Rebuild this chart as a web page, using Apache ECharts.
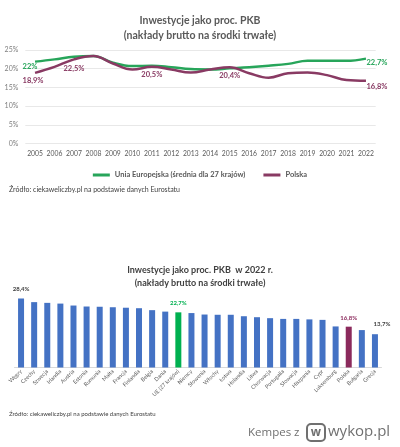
<!DOCTYPE html>
<html><head><meta charset="utf-8">
<script src="https://cdn.jsdelivr.net/npm/echarts@6/dist/echarts.min.js"></script>
<style>html,body{margin:0;padding:0;background:#fff}#c{width:400px;height:447px}</style>
</head><body><div id="c"></div>
<script>
const years = ['2005','2006','2007','2008','2009','2010','2011','2012','2013','2014','2015','2016','2017','2018','2019','2020','2021','2022'];
const euValues = [21.9,22.5,23.2,23.4,21.6,20.7,20.8,20.4,19.9,19.8,20.1,20.4,20.8,21.3,22.1,22.1,22.1,22.7];
const plValues = [18.9,20.5,22.5,23.4,21.4,19.8,20.5,19.8,19.0,19.8,20.4,18.8,17.6,18.8,19.0,18.3,17.0,16.8];
const yTicks = [0,5,10,15,20,25];

const countries = ['Węgry','Czechy','Szwecja','Irlandia','Austria','Estonia','Rumunia','Malta','Francja','Finlandia','Belgia','Dania','UE (27 krajów)','Niemcy','Słowenia','Włochy','Łotwa','Holandia','Litwa','Chorwacja','Portugalia','Słowacja','Hiszpania','Cypr','Luksemburg','Polska','Bułgaria','Grecja'];
const values2022 = [28.4,26.9,26.6,26.3,25.5,25.1,25.0,24.8,24.6,24.4,23.6,23.0,22.7,22.4,21.8,21.7,21.7,21.1,20.7,20.3,20.0,20.0,19.8,19.6,16.9,16.8,15.4,13.7];
const labelledBars = {'Węgry':'#404040','UE (27 krajów)':'#00b050','Polska':'#8b2a5c','Grecja':'#404040'};

const FONT = 'Lato';
const GREEN = '#27a55a', PURPLE = '#893a63';
const fmt = v => String(v).replace('.', ',') + '%';

const euLabelIdx = {0:{txt:'22%',off:[-5,-2]},17:{txt:'22,7%',off:[11,-3]}};
const plLabelIdx = {0:{off:[-2,1]},2:{off:[0,2]},6:{off:[0,1]},10:{off:[0,1]},17:{off:[11,-1]}};

const euData = euValues.map((v,i)=>{
  const l = euLabelIdx[i];
  return l ? {value:v,label:{show:true,position:'bottom',distance:3,formatter:l.txt,offset:l.off,color:GREEN,fontWeight:'bold',fontSize:7.5,fontFamily:FONT}} : v;
});
const plData = plValues.map((v,i)=>{
  const l = plLabelIdx[i];
  return l ? {value:v,label:{show:true,position:'bottom',distance:3,formatter:fmt(v),offset:l.off,color:PURPLE,fontWeight:'bold',fontSize:7.5,fontFamily:FONT}} : v;
});
const barData = values2022.map((v,i)=>{
  const c = countries[i];
  const item = {value:v,itemStyle:{color: c==='UE (27 krajów)'?'#00b050':(c==='Polska'?'#8b2a5c':'#4472c4')}};
  if (labelledBars[c]) item.label = {show:true,position:'top',distance:c==='Grecja'?4:6,offset:c==='Grecja'?[7,-3]:[0,0],formatter:fmt(v),color:labelledBars[c],fontSize:6,fontWeight:'bold',fontFamily:FONT};
  return item;
});

const chart = echarts.init(document.getElementById('c'), null, {renderer:'canvas'});
chart.setOption({
  animation:false,
  backgroundColor:'#fff',
  textStyle:{fontFamily:FONT},
  title:[
    {text:'Inwestycje jako proc. PKB\n(nakłady brutto na środki trwałe)',left:'center',top:8,
     textStyle:{fontFamily:FONT,fontSize:10.5,fontWeight:'bold',color:'#595959',lineHeight:15}},
    {text:'Inwestycje jako proc. PKB  w 2022 r.\n(nakłady brutto na środki trwałe)',left:'center',top:259,
     textStyle:{fontFamily:FONT,fontSize:9,fontWeight:'bold',color:'#404040',lineHeight:13}}
  ],
  legend:{
    top:166,left:'center',itemWidth:17,itemHeight:3,itemGap:18,icon:'rect',
    textStyle:{fontFamily:FONT,fontSize:7.5,color:'#595959',fontWeight:'bold'},
    data:['Unia Europejska (średnia dla 27 krajów)','Polska']
  },
  grid:[
    {left:25.3,right:24.3,top:50,height:93.7,containLabel:false},
    {left:14.5,right:18.5,top:294.6,height:72.9,containLabel:false}
  ],
  xAxis:[
    {type:'category',gridIndex:0,data:years,boundaryGap:true,
     axisLine:{show:false},axisTick:{show:false},
     axisLabel:{fontSize:6.8,color:'#595959',margin:7,interval:0,fontFamily:FONT}},
    {type:'category',gridIndex:1,data:countries,boundaryGap:true,
     axisLine:{show:true,lineStyle:{color:'#d9d9d9',width:1}},axisTick:{show:false},
     axisLabel:{fontSize:5.5,color:'#595959',rotate:45,margin:3,interval:0,fontFamily:FONT}}
  ],
  yAxis:[
    {type:'value',gridIndex:0,min:yTicks[0],max:yTicks[yTicks.length-1],interval:5,
     axisLine:{show:false},axisTick:{show:false},
     splitLine:{lineStyle:{color:'#e8e8e8',width:1}},
     axisLabel:{formatter:'{value}%',fontSize:7,color:'#7f7f7f',margin:7,fontFamily:FONT}},
    {type:'value',gridIndex:1,min:0,max:30,show:false,splitLine:{show:false}}
  ],
  series:[
    {name:'Unia Europejska (średnia dla 27 krajów)',type:'line',xAxisIndex:0,yAxisIndex:0,data:euData,
     smooth:0.4,symbol:'circle',symbolSize:0.01,showSymbol:true,lineStyle:{color:GREEN,width:2.5},itemStyle:{color:GREEN},z:3},
    {name:'Polska',type:'line',xAxisIndex:0,yAxisIndex:0,data:plData,
     smooth:0.4,symbol:'circle',symbolSize:0.01,showSymbol:true,lineStyle:{color:PURPLE,width:2.5},itemStyle:{color:PURPLE},z:4},
    {name:'2022',type:'bar',xAxisIndex:1,yAxisIndex:1,data:barData,barWidth:6}
  ],
  graphic:[
    {type:'text',left:9,top:186,style:{text:'Źródło: ciekaweliczby.pl na podstawie danych Eurostatu',fontSize:7,fill:'#404040',fontFamily:FONT}},
    {type:'text',left:9,top:411,style:{text:'Źródło: ciekaweliczby.pl na podstawie danych Eurostatu',fontSize:6,fill:'#404040',fontFamily:FONT}},
    {type:'text',x:248,y:433,style:{text:'Kempes z',fontSize:11.5,fill:'#707070',fontFamily:'Open Sans',textVerticalAlign:'middle',textAlign:'left'}},
    {type:'rect',x:307,y:424,shape:{width:18,height:17,r:4},style:{fill:'none',stroke:'#707070',lineWidth:2}},
    {type:'text',x:316,y:433,style:{text:'w',fontSize:12,fontWeight:'bold',fill:'#707070',fontFamily:'Open Sans',textVerticalAlign:'middle',textAlign:'center'}},
    {type:'text',x:328,y:432,style:{text:'wykop.pl',fontSize:15,fill:'#707070',fontFamily:'Open Sans',textVerticalAlign:'middle',textAlign:'left'}}
  ]
});
</script></body></html>
